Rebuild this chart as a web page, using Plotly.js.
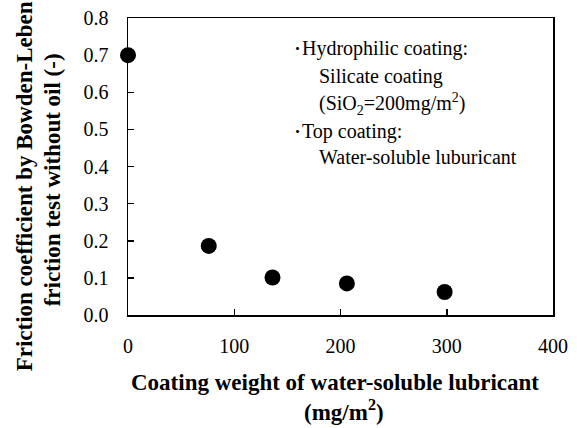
<!DOCTYPE html>
<html><head><meta charset="utf-8">
<script src="https://cdn.plot.ly/plotly-3.0.1.min.js"></script>
<style>html,body{margin:0;padding:0;background:#fff}</style>
</head><body>
<div id="chart" style="width:577px;height:428px"></div>
<script>
const coatingWeight = [0, 76, 136, 206, 298];
const frictionCoef = [0.70, 0.186, 0.101, 0.085, 0.062];
const xTicks = [0, 100, 200, 300, 400];
const yTicks = [0.0, 0.1, 0.2, 0.3, 0.4, 0.5, 0.6, 0.7, 0.8];
const noteLines = [
  "<span style='font-family:Noto Sans CJK JP;font-size:18px'>･</span>Hydrophilic coating:",
  "Silicate coating",
  "(SiO<sub>2</sub>=200mg/m<sup>2</sup>)",
  "<span style='font-family:Noto Sans CJK JP;font-size:18px'>･</span>Top coating:",
  "Water-soluble luburicant"
];
const noteIndent = [0, 1, 1, 0, 1];
const yTitleLines = ["Friction coefficient by Bowden-Leben", "friction test without oil (-)"];
const xTitleLines = ["Coating weight of water-soluble lubricant", "(mg/m<sup>2</sup>)"];

const font = "'Liberation Serif', 'Times New Roman', serif";
const L = 127.7, W = 425.3, B = 315, H = 297;
const noteY = [47, 76, 104, 130, 157];
const annotations = noteLines.map((t, i) => ({
  text: t, xref: 'paper', yref: 'paper',
  x: noteIndent[i] ? (317 - L) / W : (291 - L) / W,
  y: (B - noteY[i]) / H,
  xanchor: 'left', yanchor: 'middle', showarrow: false,
  font: {family: font, size: 20, color: '#000'}
}));
const yTitleX = [24, 52];
const yTitleY = [186, 180];
yTitleLines.forEach((t, i) => annotations.push({
  text: "<b>" + t + "</b>",
  xref: 'paper', yref: 'paper', x: (yTitleX[i] - L) / W, y: (B - yTitleY[i]) / H, textangle: -90,
  xanchor: 'center', yanchor: 'middle', showarrow: false,
  font: {family: font, size: 23, color: '#000'}
}));
const xTitleY = [382, 410];
const xTitleX = [335, 344];
xTitleLines.forEach((t, i) => annotations.push({
  text: "<b>" + t + "</b>",
  xref: 'paper', yref: 'paper', x: (xTitleX[i] - L) / W, y: (B - xTitleY[i]) / H,
  xanchor: 'center', yanchor: 'middle', showarrow: false,
  font: {family: font, size: 23, color: '#000'}
}));

Plotly.newPlot('chart', [{
  x: coatingWeight, y: frictionCoef, mode: 'markers', type: 'scatter',
  marker: {color: '#000', size: 16}, cliponaxis: false, showlegend: false
}], {
  width: 577, height: 428,
  margin: {l: L, r: 24, t: 18, b: 113},
  paper_bgcolor: '#fff', plot_bgcolor: '#fff',
  font: {family: font, color: '#000', size: 20},
  xaxis: {
    range: [0, 400], tickvals: xTicks, ticktext: xTicks.map(String),
    ticks: 'inside', ticklen: 6, tickwidth: 1.5, tickcolor: '#000',
    showline: true, linecolor: '#000', linewidth: 1.5, mirror: true,
    showgrid: false, zeroline: false,
    tickfont: {family: font, size: 20, color: '#000'}, ticklabelstandoff: 12
  },
  yaxis: {
    range: [0, 0.8], tickvals: yTicks, ticktext: yTicks.map(v => v.toFixed(1)),
    ticks: 'inside', ticklen: 6, tickwidth: 1.5, tickcolor: '#000',
    showline: true, linecolor: '#000', linewidth: 1.5, mirror: true,
    showgrid: false, zeroline: false,
    tickfont: {family: font, size: 20, color: '#000'}, ticklabelstandoff: 14
  },
  annotations: annotations
}, {displayModeBar: false, staticPlot: true});
</script>
</body></html>
